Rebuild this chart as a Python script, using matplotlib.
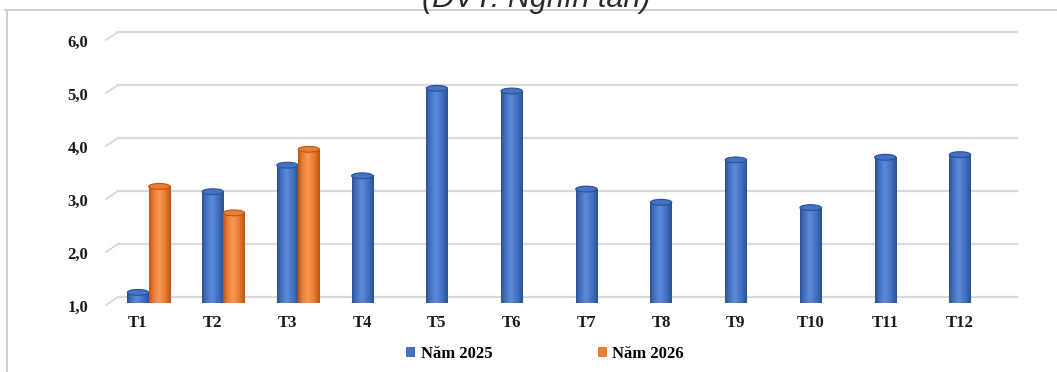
import numpy as np
import matplotlib
matplotlib.use('Agg')
from matplotlib import pyplot as plt
from matplotlib import transforms
from matplotlib.colors import LinearSegmentedColormap
from matplotlib.patches import Ellipse, Patch
from matplotlib.lines import Line2D


# Data (nghìn tấn)
months = ['T1', 'T2', 'T3', 'T4', 'T5', 'T6', 'T7', 'T8', 'T9', 'T10', 'T11', 'T12']
values_2025 = [1.2, 3.1, 3.6, 3.4, 5.05, 5.0, 3.15, 2.9, 3.7, 2.8, 3.75, 3.8]
values_2026 = [3.2, 2.7, 3.9]
y_ticks = [1.0, 2.0, 3.0, 4.0, 5.0, 6.0]
series_names = ['Năm 2025', 'Năm 2026']

BLUE = ('#2d5190', '#4472c4', '#5f8ad8')
ORANGE = ('#b9560f', '#ed7d31', '#f6995a')

W, H = 1057, 372
fig = plt.figure(figsize=(W / 100, H / 100), dpi=100)
fig.patch.set_facecolor('white')

# axes placed so the front plane runs from value 1 (y=303px) to 6 (y=38px)
ax = fig.add_axes([106 / W, 1 - 303 / H, (1017 - 106) / W, (303 - 38) / H])
ax.set_facecolor('none')
for s in ax.spines.values():
    s.set_visible(False)

bar_w = 0.285
cap_h = 0.11
base = 1.0


def cylinder(x, h, cols):
    dark, mid, light = cols
    cmap = LinearSegmentedColormap.from_list(
        'cyl', [(0, dark), (0.2, mid), (0.45, light), (0.72, mid), (1, dark)])
    grad = np.linspace(0, 1, 64).reshape(1, -1)
    ax.add_patch(Ellipse((x, base), bar_w, cap_h, facecolor=dark,
                         edgecolor='none', zorder=2.9))
    ax.imshow(grad, extent=[x - bar_w / 2, x + bar_w / 2, base, h],
              aspect='auto', cmap=cmap, interpolation='bicubic', zorder=3)
    ax.add_patch(Ellipse((x, h), bar_w, cap_h, facecolor=mid,
                         edgecolor=dark, linewidth=0.8, zorder=3.1))


xs = np.arange(len(months))
for i, v in enumerate(values_2025):
    cylinder(xs[i], v, BLUE)
for i, v in enumerate(values_2026):
    cylinder(xs[i] + bar_w, v, ORANGE)

ax.set_xlim(-(138 - 106) / 74.75, 11 + (1017 - 960) / 74.75)
ax.set_ylim(1, 6)
ax.set_xticks([])
ax.set_yticks([])

# back-wall gridlines with short diagonal floor stubs
grid_col = '#d9d9d9'
back = transforms.offset_copy(ax.transData, fig=fig, x=0, y=6, units='dots')
blend_back = transforms.blended_transform_factory(ax.transAxes, back)
x_back = 12 / (1017 - 106)
for v in y_ticks:
    ax.plot([x_back, 1], [v, v], color=grid_col, lw=1.6,
            transform=blend_back, zorder=1, clip_on=False)
    x0, y0 = blend_back.transform((x_back, v))
    x1, y1 = x0 - 12, y0 - 8
    fig.add_artist(Line2D([x0 / W, x1 / W], [y0 / H, y1 / H],
                          color=grid_col, lw=1.3, transform=fig.transFigure))

# y labels
lab = transforms.offset_copy(
    transforms.blended_transform_factory(fig.transFigure, ax.transData),
    fig=fig, x=0, y=-5, units='dots')
for v in y_ticks:
    ax.text(88 / W, v, f'{v:.1f}'.replace('.', ','), transform=lab,
            ha='right', va='center', fontsize=12, fontweight='bold',
            family='Liberation Serif', color='#1a1a1a')

# x labels
for i, m in enumerate(months):
    fig.text(ax.transData.transform((xs[i], 1))[0] / W, 1 - 323 / H, m,
             ha='center', va='center', fontsize=12, fontweight='bold',
             family='Liberation Serif', color='#1a1a1a')

# legend
handles = [Patch(facecolor=BLUE[1]), Patch(facecolor=ORANGE[1])]
fig.legend(handles, series_names, loc='center', ncol=2,
           bbox_to_anchor=(545 / W, 1 - 354 / H), frameon=False,
           handlelength=0.55, handleheight=0.55, handletextpad=0.35,
           columnspacing=6.3,
           prop={'family': 'Liberation Serif', 'weight': 'bold', 'size': 12})

# title (partially cut off at the top, as in the source) and frame
fig.text(536 / W, 1 - 7 / H, '(ĐVT: Nghìn tấn)', ha='center', va='baseline',
         fontsize=22, style='italic', family='Liberation Sans', color='#2b2b2b')
fig.add_artist(Line2D([5 / W, 1], [1 - 10 / H, 1 - 10 / H], color='#d0d0d0',
                      lw=1.5, transform=fig.transFigure))
fig.add_artist(Line2D([7 / W, 7 / W], [0, 1 - 10 / H], color='#d0d0d0',
                      lw=1.5, transform=fig.transFigure))

fig.savefig('out.png', dpi=100)
